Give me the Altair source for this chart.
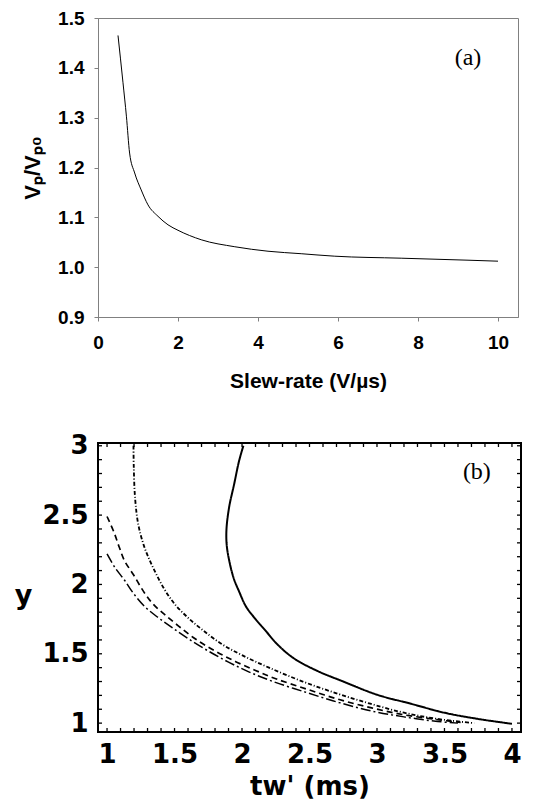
import altair as alt
import pandas as pd

# ---------------- Panel (a) ----------------
slew_rate = [0.5, 0.625, 0.71, 0.79, 0.917, 1.08, 1.25, 1.5, 1.75, 2.0, 2.58,
             3.42, 4.25, 5.08, 5.92, 7.58, 9.25, 10.0]
vp_ratio = [1.465, 1.37, 1.303, 1.229, 1.189, 1.155, 1.125, 1.102, 1.085, 1.074,
            1.055, 1.041, 1.032, 1.027, 1.022, 1.018, 1.014, 1.012]
a_xticks = [0, 2, 4, 6, 8, 10]
a_yticks = [0.9, 1.0, 1.1, 1.2, 1.3, 1.4, 1.5]
a_label = ["(a)"]
a_label_x = [9.25]
a_label_y = [1.42]

# ---------------- Panel (b) ----------------
s1_x = [2.01, 1.978, 1.941, 1.905, 1.885, 1.887, 1.91, 1.94, 1.978, 2.03, 2.10,
        2.18, 2.26, 2.38, 2.55, 2.75, 3.0, 3.25, 3.5, 3.75, 4.0]
s1_y = [3.0, 2.89, 2.72, 2.56, 2.40, 2.28, 2.15, 2.04, 1.95, 1.84, 1.75,
        1.66, 1.57, 1.47, 1.38, 1.30, 1.205, 1.14, 1.075, 1.03, 0.995]
s2_x = [1.196, 1.198, 1.208, 1.232, 1.28, 1.342, 1.416, 1.50, 1.60, 1.71, 1.85,
        2.0, 2.2, 2.45, 2.7, 2.95, 3.2, 3.45, 3.72]
s2_y = [3.0, 2.85, 2.62, 2.43, 2.26, 2.12, 1.98, 1.86, 1.76, 1.67, 1.57,
        1.49, 1.40, 1.30, 1.215, 1.14, 1.075, 1.03, 1.0]
s3_x = [1.0, 1.05, 1.09, 1.13, 1.196, 1.27, 1.34, 1.43, 1.53, 1.65, 1.8, 1.95,
        2.1, 2.25, 2.48, 2.72, 2.96, 3.2, 3.45, 3.62]
s3_y = [2.49, 2.38, 2.27, 2.17, 2.07, 1.95, 1.86, 1.78, 1.70, 1.61, 1.52, 1.445,
        1.38, 1.32, 1.245, 1.17, 1.11, 1.06, 1.025, 1.005]
s4_x = [1.0, 1.06, 1.13, 1.2, 1.28, 1.38, 1.48, 1.6, 1.75, 1.9, 2.05, 2.23,
        2.48, 2.72, 2.96, 3.2, 3.45, 3.6]
s4_y = [2.22, 2.12, 2.03, 1.93, 1.84, 1.76, 1.69, 1.61, 1.52, 1.44, 1.37, 1.30,
        1.22, 1.148, 1.087, 1.045, 1.012, 1.0]
series_names = ["s1", "s2", "s3", "s4"]
series_dash = [[1, 0], [4, 2, 1, 2], [6, 4], [10, 3, 2, 3]]
series_width = [2.0, 1.5, 1.5, 1.5]
b_xlabels = [1, 1.5, 2, 2.5, 3, 3.5, 4]
b_ylabels = [1, 1.5, 2, 2.5, 3]
b_minor_x = [round(1.0 + 0.1 * i, 1) for i in range(31)]
b_minor_y = [round(1.0 + 0.1 * i, 1) for i in range(21)]
b_label = ["(b)"]
b_label_x = [3.74]
b_label_y = [2.81]

A_W, A_H = 420, 299
B_W, B_H = 423, 289

# ---------- build panel (a) ----------
df_a = pd.DataFrame({"sr": slew_rate, "vp": vp_ratio})
ax_a_x = alt.Axis(values=a_xticks, title="Slew-rate (V/µs)", grid=False,
                  labelFont="Liberation Sans", labelFontWeight="bold", labelFontSize=19,
                  titleFont="Liberation Sans", titleFontWeight="bold", titleFontSize=21,
                  labelColor="black", titleColor="black",
                  domainColor="#808080", tickColor="#808080", tickSize=4,
                  labelPadding=12, titlePadding=18, labelFlush=False)
ax_a_y = alt.Axis(values=a_yticks, format=".1f", title="Vₚ/Vₚ₀", grid=False,
                  labelFont="Liberation Sans", labelFontWeight="bold", labelFontSize=19,
                  titleFont="Liberation Sans", titleFontWeight="bold", titleFontSize=22,
                  labelColor="black", titleColor="black",
                  domainColor="#808080", tickColor="#808080", tickSize=4,
                  labelPadding=10, titlePadding=13, labelFlush=False)
sx_a = alt.Scale(domain=[0, 10.5], nice=False, zero=False)
sy_a = alt.Scale(domain=[0.9, 1.5], nice=False, zero=False)

line_a = alt.Chart(df_a).mark_line(color="black", strokeWidth=1, interpolate="monotone").encode(
    x=alt.X("sr:Q", scale=sx_a, axis=ax_a_x),
    y=alt.Y("vp:Q", scale=sy_a, axis=ax_a_y),
)
lab_a = alt.Chart(pd.DataFrame({"t": a_label, "x": a_label_x, "y": a_label_y})).mark_text(
    font="Liberation Serif", fontSize=24, color="black", align="center", baseline="middle"
).encode(x=alt.X("x:Q", scale=sx_a, axis=ax_a_x), y=alt.Y("y:Q", scale=sy_a, axis=ax_a_y), text="t:N")

panel_a = alt.layer(line_a, lab_a).properties(
    width=A_W, height=A_H,
    view=alt.ViewBackground(stroke="#808080", strokeWidth=1),
)

# ---------- build panel (b) ----------
rows = []
for name, xs, ys in [("s1", s1_x, s1_y), ("s2", s2_x, s2_y), ("s3", s3_x, s3_y), ("s4", s4_x, s4_y)]:
    for i, (xv, yv) in enumerate(zip(xs, ys)):
        rows.append({"s": name, "i": i, "tw": xv, "y": yv})
df_b = pd.DataFrame(rows)

B_FONT = "DejaVu Sans"
sx_b = alt.Scale(domain=[0.933, 4.067], nice=False, zero=False)
sy_b = alt.Scale(domain=[0.936, 3.02], nice=False, zero=False)
ax_b_x = alt.Axis(values=b_xlabels, format="~g", title="tw' (ms)", grid=False,
                  ticks=False, tickSize=0, domain=False,
                  labelFont=B_FONT, labelFontSize=26, labelFontWeight="bold",
                  titleFont=B_FONT, titleFontSize=26, titleFontWeight="bold",
                  labelColor="black", titleColor="black",
                  labelPadding=9, titlePadding=6, labelFlush=False)
ax_b_y = alt.Axis(values=b_ylabels, format="~g", title="y", grid=False,
                  ticks=False, tickSize=0, domain=False,
                  labelFont=B_FONT, labelFontSize=26, labelFontWeight="bold",
                  titleFont=B_FONT, titleFontSize=27, titleFontWeight="bold",
                  labelColor="black", titleColor="black",
                  labelPadding=10, titleAngle=0, titleAlign="center", titleBaseline="middle",
                  titleX=-75, titleY=152, labelFlush=False)

lines_b = alt.Chart(df_b).mark_line(color="black", interpolate="catmull-rom").encode(
    x=alt.X("tw:Q", scale=sx_b, axis=ax_b_x),
    y=alt.Y("y:Q", scale=sy_b, axis=ax_b_y),
    strokeDash=alt.StrokeDash("s:N", scale=alt.Scale(domain=series_names, range=series_dash), legend=None),
    strokeWidth=alt.StrokeWidth("s:N", scale=alt.Scale(domain=series_names, range=series_width), legend=None),
    order=alt.Order("i:Q"),
)

df_tx = pd.DataFrame({"v": b_minor_x})
df_ty = pd.DataFrame({"v": b_minor_y})
tick_style = dict(color="black", strokeWidth=1.3)
t_bottom = alt.Chart(df_tx).mark_rule(**tick_style).encode(
    x=alt.X("v:Q", scale=sx_b, axis=ax_b_x), y=alt.value(B_H), y2=alt.value(B_H - 4))
t_top = alt.Chart(df_tx).mark_rule(**tick_style).encode(
    x=alt.X("v:Q", scale=sx_b, axis=ax_b_x), y=alt.value(0), y2=alt.value(4))
t_left = alt.Chart(df_ty).mark_rule(**tick_style).encode(
    y=alt.Y("v:Q", scale=sy_b, axis=ax_b_y), x=alt.value(0), x2=alt.value(4))
t_right = alt.Chart(df_ty).mark_rule(**tick_style).encode(
    y=alt.Y("v:Q", scale=sy_b, axis=ax_b_y), x=alt.value(B_W), x2=alt.value(B_W - 4))

lab_b = alt.Chart(pd.DataFrame({"t": b_label, "x": b_label_x, "y": b_label_y})).mark_text(
    font="Liberation Serif", fontSize=24, color="black", align="center", baseline="middle"
).encode(x=alt.X("x:Q", scale=sx_b, axis=ax_b_x), y=alt.Y("y:Q", scale=sy_b, axis=ax_b_y), text="t:N")

panel_b = alt.layer(lines_b, t_bottom, t_top, t_left, t_right, lab_b).properties(
    width=B_W, height=B_H,
    view=alt.ViewBackground(stroke="black", strokeWidth=2),
)

chart = alt.vconcat(panel_a, panel_b, spacing=39).properties(
    padding={"left": 5, "top": 0, "right": 0, "bottom": 0},
    background="white",
).configure_view(stroke=None)

chart.save("out.html", embed_options={"renderer": "svg", "actions": False})
